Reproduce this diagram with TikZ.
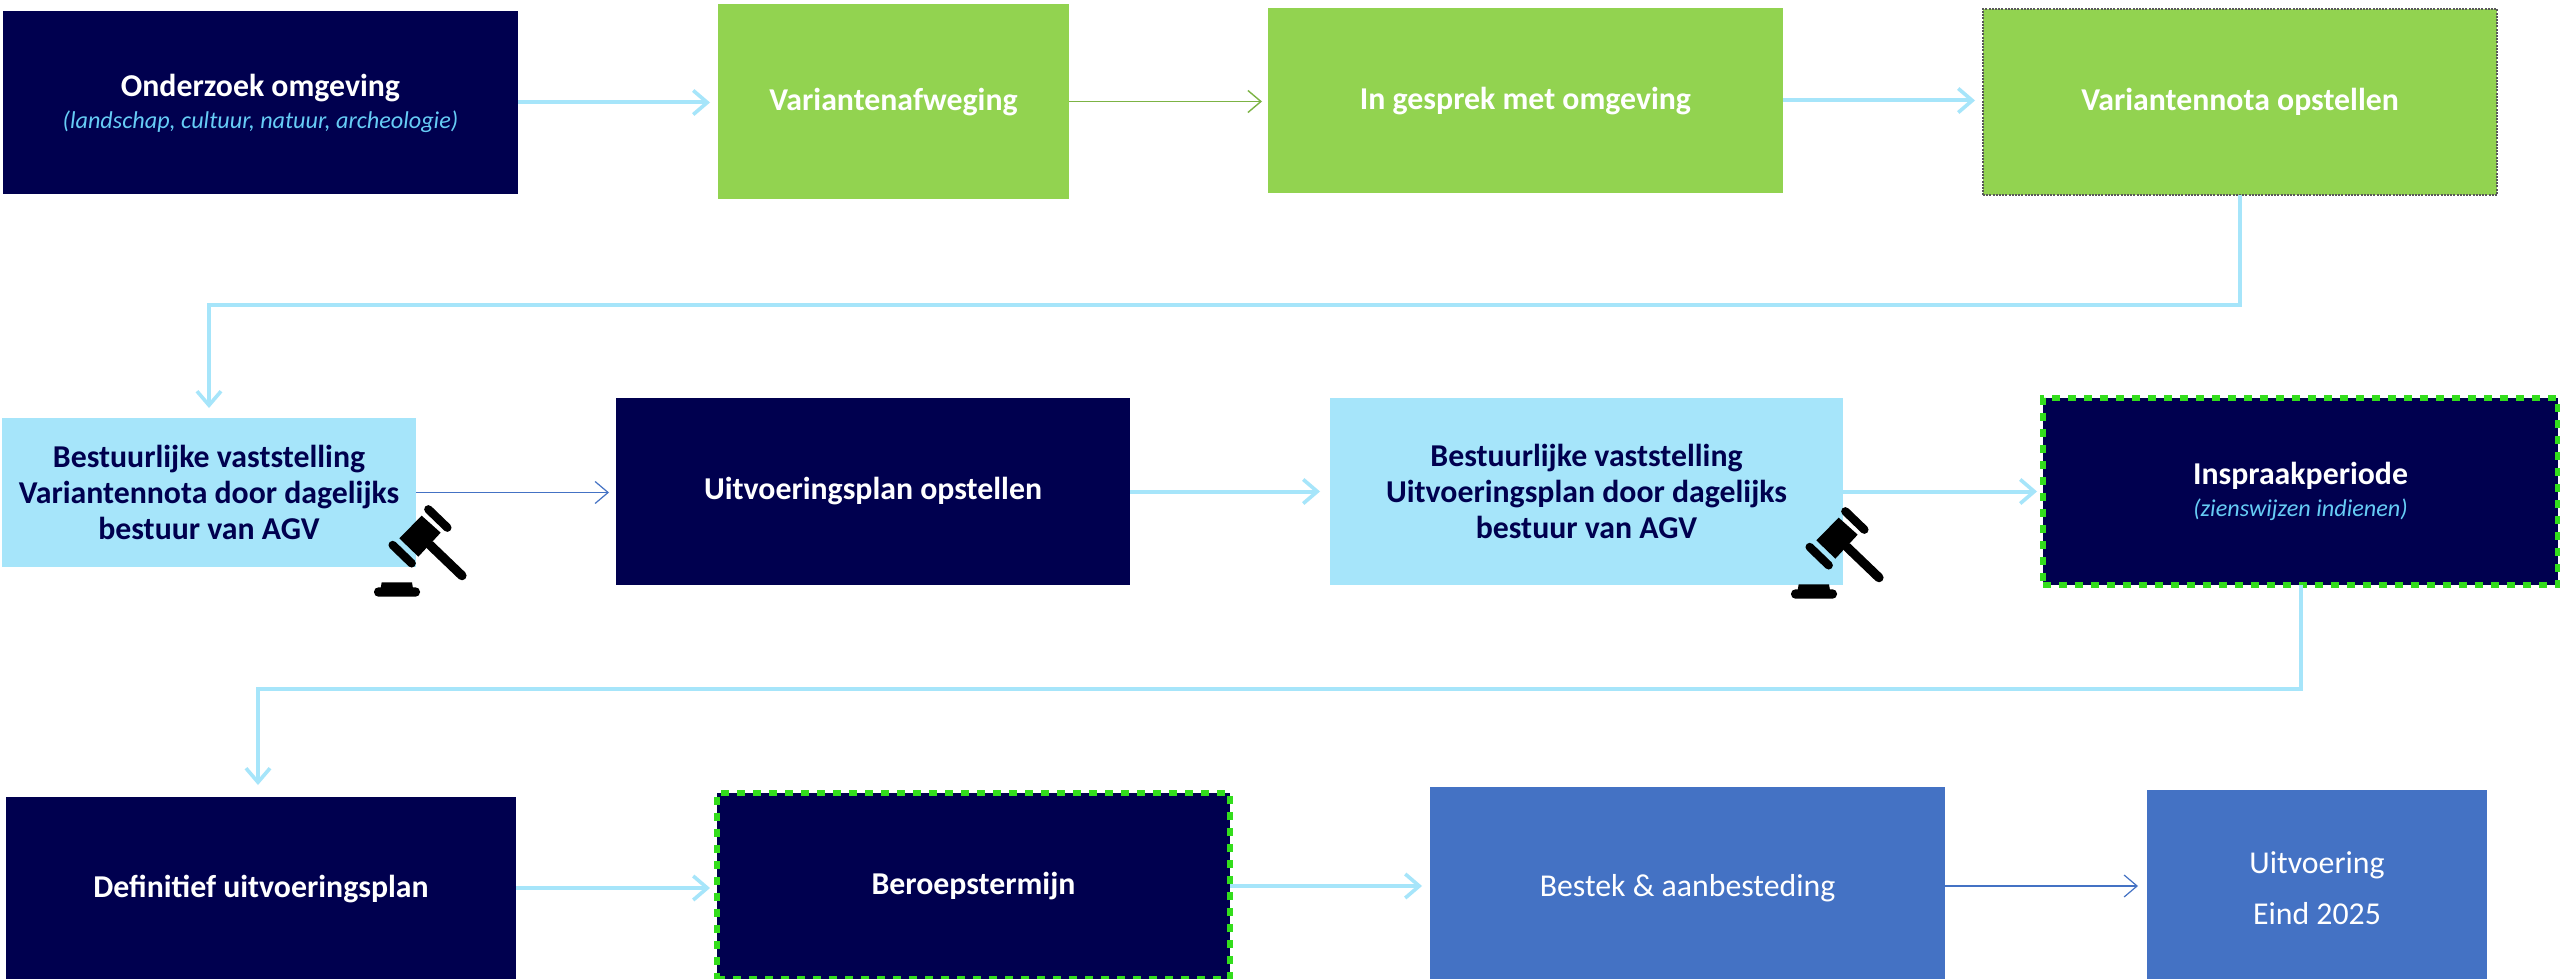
\documentclass[tikz,border=0pt]{standalone}
\usepackage{fontspec}
\setmainfont{Carlito}
\usetikzlibrary{arrows.meta,calc}
\definecolor{navy}{HTML}{00004F}
\definecolor{lgreen}{HTML}{92D350}
\definecolor{lblue}{HTML}{A6E5FA}
\definecolor{mblue}{HTML}{4472C4}
\definecolor{dgreen}{HTML}{33DD1C}
\definecolor{subblue}{HTML}{66CCF5}
\newcommand{\subtxt}[1]{{\fontsize{12.1}{13}\selectfont\mdseries\itshape\color{subblue}#1}}
\newcommand{\lowered}[2]{\raisebox{-#1}[\height][\depth]{#2}}
\tikzset{
  x=0.5pt,y=-0.5pt,
  boxbase/.style={inner sep=0pt,outer sep=0pt,align=center,font=\fontsize{15.9}{18}\selectfont\bfseries},
  navybox/.style={boxbase,fill=navy,text=white},
  greenbox/.style={boxbase,fill=lgreen,text=white},
  skybox/.style={boxbase,fill=lblue,text=navy},
  bluebox/.style={boxbase,fill=mblue,text=white,font=\fontsize{15.9}{25.5}\selectfont},
  greendash/.style={draw=dgreen,line width=3.2pt,dash pattern=on 4pt off 4pt},
  dotted box/.style={draw=black!65,line width=0.7pt,dash pattern=on 1pt off 0.6pt},
  conn/.style={draw=lblue,line width=2pt,-{Straight Barb[length=7pt,width=12pt,line width=1.8pt]},shorten >=1pt},
  thinblue/.style={draw=mblue,line width=0.7pt,-{Straight Barb[length=6.5pt,width=11pt,line width=0.6pt]}},
  thingreen/.style={draw=lgreen!85!black,line width=0.8pt,-{Straight Barb[length=6.5pt,width=11pt,line width=0.7pt]}},
  gavelpic/.pic={
    \begin{scope}[x=0.16667pt,y=-0.16667pt]
      \fill[black] (245,107) -- (302,158) -- (235,230) -- (178,175) -- cycle;
      \draw[black,line width=4.2pt,line cap=round] (265,88) -- (322,143);
      \draw[black,line width=4.2pt,line cap=round] (158,195) -- (215,250);
      \draw[black,line width=4.6pt,line cap=round] (270,195) -- (366,287);
      \fill[black,rounded corners=2.2pt] (102,322) rectangle (240,350);
      \fill[black] (122,325) -- (125,307) -- (216,307) -- (219,325) -- cycle;
    \end{scope}
  }
}
\begin{document}
\begin{tikzpicture}
\useasboundingbox (0,0) rectangle (2560,979);
\fill[white] (0,0) rectangle (2560,979);
% row 1
\node[navybox,minimum width=257.5pt,minimum height=91.5pt] (n1) at (260.5,102.5) {\lowered{1pt}{Onderzoek omgeving}\\[-1pt]\subtxt{(landschap, cultuur, natuur, archeologie)}};
\node[greenbox,minimum width=175.5pt,minimum height=97.5pt] (n2) at (893.5,101.5) {\lowered{0.5pt}{Variantenafweging}};
\node[greenbox,minimum width=257.5pt,minimum height=92.5pt] (n3) at (1525.5,100.5) {\lowered{0.5pt}{In gesprek met omgeving}};
\node[greenbox,dotted box,minimum width=257pt,minimum height=93pt] (n4) at (2240,102) {Variantennota opstellen};
% row 2
\node[skybox,minimum width=207pt,minimum height=74.5pt] (n5) at (209,492.5) {Bestuurlijke vaststelling\\Variantennota door dagelijks\\bestuur van AGV};
\node[navybox,minimum width=257pt,minimum height=93.5pt] (n6) at (873,491.5) {Uitvoeringsplan opstellen};
\node[skybox,minimum width=256.5pt,minimum height=93.5pt] (n7) at (1586.5,491.5) {Bestuurlijke vaststelling\\Uitvoeringsplan door dagelijks\\bestuur van AGV};
\node[navybox,greendash,minimum width=257.5pt,minimum height=93.5pt] (n8) at (2300.5,491.5) {Inspraakperiode\\[-2pt]\subtxt{(zienswijzen indienen)}};
% row 3
\node[navybox,minimum width=255pt,minimum height=91pt] (n9) at (261,888) {\lowered{0.5pt}{Definitief uitvoeringsplan}};
\node[navybox,greendash,minimum width=256.5pt,minimum height=93pt] (n10) at (973.5,886) {Beroepstermijn};
\node[bluebox,minimum width=257.5pt,minimum height=96pt] (n11) at (1687.5,883) {\lowered{2.5pt}{Bestek \& aanbesteding}};
\node[bluebox,minimum width=170pt,minimum height=95pt] (n12) at (2317,884.5) {\lowered{1.6pt}{Uitvoering}\\\lowered{1.6pt}{Eind 2025}};
% bend points
\coordinate (b1) at (1200,305);
\coordinate (b2) at (1200,689);
% connectors
\draw[conn,shorten >=4pt] (n1.east) -- (n1.east -| n2.west);
\draw[thingreen,shorten >=3pt] (n2.east) -- (n2.east -| n3.west);
\draw[conn,shorten >=4pt] (n3.east) -- (n3.east -| n4.west);
\draw[conn,shorten >=5pt] (n4.south) |- (b1) -| (n5.north);
\draw[thinblue,shorten >=3.5pt] (n5.east) -- (n5.east -| n6.west);
\draw[conn,shorten >=5pt] (n6.east) -- (n6.east -| n7.west);
\draw[conn,shorten >=3pt] (n7.east) -- (n7.east -| n8.west);
\draw[conn,shorten >=6pt] (n8.south) |- (b2) -| ([xshift=-1.5pt]n9.north);
\draw[conn,shorten >=3.5pt] (n9.east) -- (n9.east -| n10.west);
\draw[conn,shorten >=4pt] (n10.east) -- (n10.east -| n11.west);
\draw[thinblue,shorten >=4.5pt] ([yshift=-1.5pt]n11.east) -- ([yshift=-1.5pt]n11.east -| n12.west);
% gavels
\pic at (340,480) {gavelpic};
\pic at (1757,482) {gavelpic};
\end{tikzpicture}
\end{document}
